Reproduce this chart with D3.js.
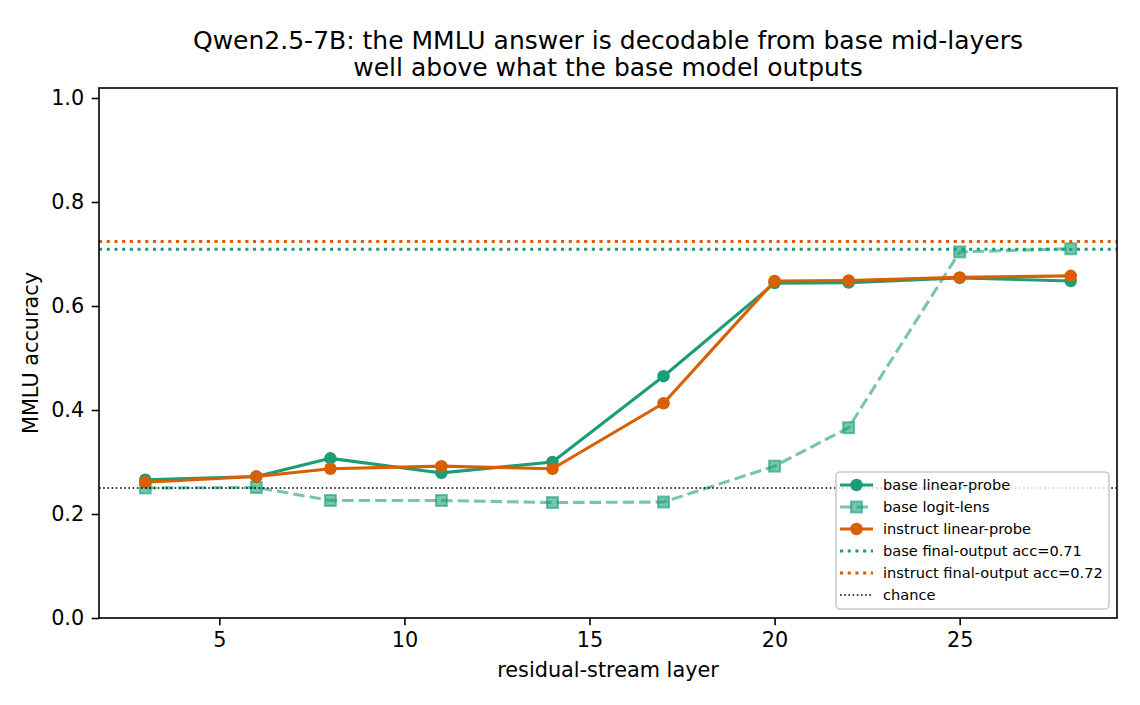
<!DOCTYPE html>
<html><head><meta charset="utf-8">
<script src="https://cdn.jsdelivr.net/npm/d3@7"></script>
<style>
body{margin:0;background:#fff;}
text{font-family:"DejaVu Sans",sans-serif;}
</style></head>
<body><svg id="chart" width="1140" height="705"></svg>
<script>
const layers = [3, 6, 8, 11, 14, 17, 20, 22, 25, 28];
const baseProbe = [0.266, 0.272, 0.307, 0.279, 0.300, 0.465, 0.644, 0.645, 0.654, 0.648];
const baseLogitLens = [0.250, 0.251, 0.226, 0.226, 0.222, 0.223, 0.292, 0.366, 0.704, 0.710];
const instructProbe = [0.261, 0.272, 0.287, 0.292, 0.287, 0.413, 0.648, 0.649, 0.655, 0.658];
const baseFinal = 0.709;
const instructFinal = 0.724;
const chance = 0.25;
const xTicks = [5, 10, 15, 20, 25];
const yTicks = [0.0, 0.2, 0.4, 0.6, 0.8, 1.0];
const titleLines = ["Qwen2.5-7B: the MMLU answer is decodable from base mid-layers", "well above what the base model outputs"];
const legendLabels = ["base linear-probe", "base logit-lens", "instruct linear-probe", "base final-output acc=0.71", "instruct final-output acc=0.72", "chance"];

const GREEN = "#1b9e77", ORANGE = "#d95f02";
const svg = d3.select("#chart");
const L = 99, R = 1117, T = 88, B = 618;
const x = d3.scaleLinear().domain([1.75, 29.25]).range([L, R]);
const y = d3.scaleLinear().domain([0, 1.0192]).range([B, T]);

svg.append("rect").attr("width", 1140).attr("height", 705).attr("fill", "#fff");

const line = d3.line().x(d => x(d[0])).y(d => y(d[1]));
const zip = arr => layers.map((l, i) => [l, arr[i]]);
const LW = 3.1, MR = 6.25, sq = 11;
const DASH = "11.5,5", DOT = "3.1,4.6", CDOT = "1.6,2.6";

const plot = svg.append("g");
// base linear probe
plot.append("path").datum(zip(baseProbe)).attr("d", line).attr("fill", "none")
  .attr("stroke", GREEN).attr("stroke-width", LW).attr("stroke-linejoin", "round");
plot.selectAll(".c1").data(zip(baseProbe)).enter().append("circle")
  .attr("cx", d => x(d[0])).attr("cy", d => y(d[1])).attr("r", MR).attr("fill", GREEN);
// logit lens
plot.append("path").datum(zip(baseLogitLens)).attr("d", line).attr("fill", "none")
  .attr("stroke", GREEN).attr("stroke-opacity", 0.6).attr("stroke-width", LW).attr("stroke-dasharray", DASH);
plot.selectAll(".s1").data(zip(baseLogitLens)).enter().append("rect")
  .attr("x", d => x(d[0]) - sq / 2).attr("y", d => y(d[1]) - sq / 2).attr("width", sq).attr("height", sq)
  .attr("fill", GREEN).attr("fill-opacity", 0.6).attr("stroke", GREEN).attr("stroke-opacity", 0.6).attr("stroke-width", 2);
// instruct probe
plot.append("path").datum(zip(instructProbe)).attr("d", line).attr("fill", "none")
  .attr("stroke", ORANGE).attr("stroke-width", LW).attr("stroke-linejoin", "round");
plot.selectAll(".c2").data(zip(instructProbe)).enter().append("circle")
  .attr("cx", d => x(d[0])).attr("cy", d => y(d[1])).attr("r", MR).attr("fill", ORANGE);
// horizontal lines
plot.append("line").attr("x1", L).attr("x2", R).attr("y1", y(baseFinal)).attr("y2", y(baseFinal))
  .attr("stroke", GREEN).attr("stroke-width", LW).attr("stroke-dasharray", DOT);
plot.append("line").attr("x1", L).attr("x2", R).attr("y1", y(instructFinal)).attr("y2", y(instructFinal))
  .attr("stroke", ORANGE).attr("stroke-width", LW).attr("stroke-dasharray", DOT);
plot.append("line").attr("x1", L).attr("x2", R).attr("y1", y(chance)).attr("y2", y(chance))
  .attr("stroke", "#000").attr("stroke-width", 1.6).attr("stroke-dasharray", CDOT);

// axes
const xAxis = d3.axisBottom(x).tickValues(xTicks).tickSize(7.3).tickPadding(7).tickFormat(d3.format("d"));
const yAxis = d3.axisLeft(y).tickValues(yTicks).tickSize(7.3).tickPadding(7.5).tickFormat(d3.format(".1f"));
const gx = svg.append("g").attr("transform", `translate(0,${B})`).call(xAxis);
const gy = svg.append("g").attr("transform", `translate(${L},0)`).call(yAxis);
[gx, gy].forEach(g => {
  g.select(".domain").remove();
  g.selectAll(".tick line").attr("stroke", "#000").attr("stroke-width", 1.6);
  g.selectAll(".tick text").attr("fill", "#000").style("font-size", "20.8px").style("font-family", "DejaVu Sans");
});
svg.append("rect").attr("x", L).attr("y", T).attr("width", R - L).attr("height", B - T)
  .attr("fill", "none").attr("stroke", "#000").attr("stroke-width", 1.6);

// labels
svg.append("text").attr("x", (L + R) / 2).attr("y", 676.5).attr("text-anchor", "middle")
  .style("font-size", "20.8px").text("residual-stream layer");
svg.append("text").attr("transform", `translate(38,${(T + B) / 2}) rotate(-90)`).attr("text-anchor", "middle")
  .style("font-size", "20.8px").text("MMLU accuracy");
titleLines.forEach((t, i) => {
  svg.append("text").attr("x", (L + R) / 2).attr("y", 48.5 + i * 27.5).attr("text-anchor", "middle")
    .style("font-size", "25px").text(t);
});

// legend
const lg = svg.append("g");
lg.append("rect").attr("x", 836).attr("y", 472).attr("width", 273).attr("height", 137).attr("rx", 4)
  .attr("fill", "#fff").attr("fill-opacity", 0.8).attr("stroke", "#cccccc").attr("stroke-width", 1.6);
const rowY = i => 485 + i * 22;
const hx1 = 840, hx2 = 873, hxm = (hx1 + hx2) / 2;
legendLabels.forEach((lab, i) => {
  lg.append("text").attr("x", 883).attr("y", rowY(i)).attr("dy", "0.36em").style("font-size", "14.6px").text(lab);
});
// handles
lg.append("line").attr("x1", hx1).attr("x2", hx2).attr("y1", rowY(0)).attr("y2", rowY(0)).attr("stroke", GREEN).attr("stroke-width", LW);
lg.append("circle").attr("cx", hxm).attr("cy", rowY(0)).attr("r", MR).attr("fill", GREEN);
lg.append("line").attr("x1", hx1).attr("x2", hx2).attr("y1", rowY(1)).attr("y2", rowY(1)).attr("stroke", GREEN).attr("stroke-opacity", 0.6).attr("stroke-width", LW).attr("stroke-dasharray", DASH);
lg.append("rect").attr("x", hxm - sq / 2).attr("y", rowY(1) - sq / 2).attr("width", sq).attr("height", sq)
  .attr("fill", GREEN).attr("fill-opacity", 0.6).attr("stroke", GREEN).attr("stroke-opacity", 0.6).attr("stroke-width", 2);
lg.append("line").attr("x1", hx1).attr("x2", hx2).attr("y1", rowY(2)).attr("y2", rowY(2)).attr("stroke", ORANGE).attr("stroke-width", LW);
lg.append("circle").attr("cx", hxm).attr("cy", rowY(2)).attr("r", MR).attr("fill", ORANGE);
lg.append("line").attr("x1", hx1).attr("x2", hx2).attr("y1", rowY(3)).attr("y2", rowY(3)).attr("stroke", GREEN).attr("stroke-width", LW).attr("stroke-dasharray", DOT);
lg.append("line").attr("x1", hx1).attr("x2", hx2).attr("y1", rowY(4)).attr("y2", rowY(4)).attr("stroke", ORANGE).attr("stroke-width", LW).attr("stroke-dasharray", DOT);
lg.append("line").attr("x1", hx1).attr("x2", hx2).attr("y1", rowY(5)).attr("y2", rowY(5)).attr("stroke", "#000").attr("stroke-width", 1.6).attr("stroke-dasharray", CDOT);
</script></body></html>
